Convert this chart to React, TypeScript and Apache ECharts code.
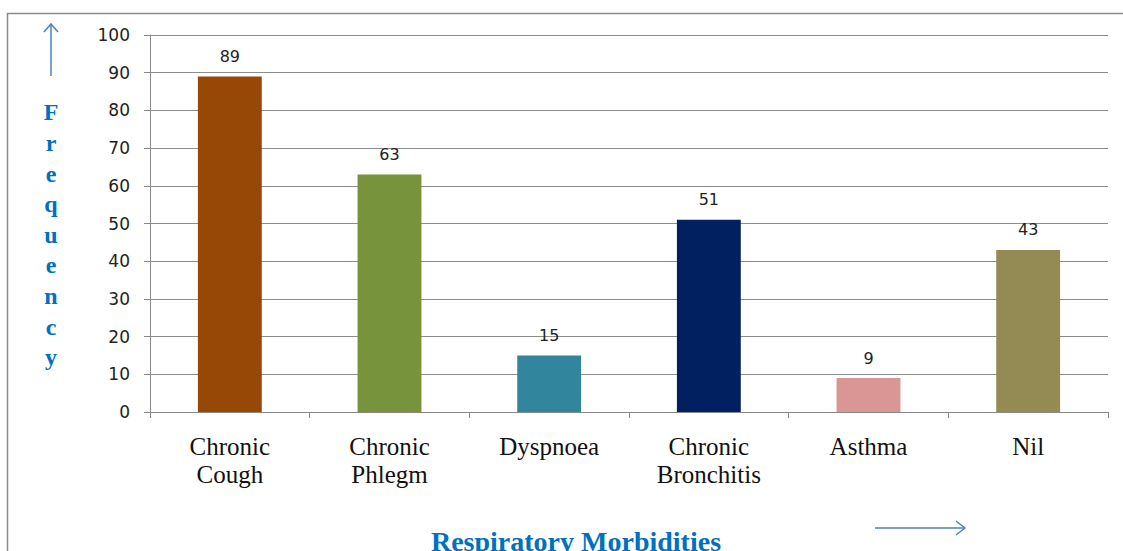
import React, { useEffect, useRef } from "react";
import * as echarts from "echarts";

const categories = ["Chronic\nCough", "Chronic\nPhlegm", "Dyspnoea", "Chronic\nBronchitis", "Asthma", "Nil"];
const values = [89, 63, 15, 51, 9, 43];
const barColors = ["#974706", "#77933C", "#31859C", "#002060", "#D99694", "#948A54"];
const yTicks = { min: 0, max: 100, interval: 10 };
const xTitle = "Respiratory Morbidities";
const yTitle = "Frequency";

export default function App() {
  const ref = useRef<HTMLDivElement>(null);
  useEffect(() => {
    if (!ref.current) return;
    const chart = echarts.init(ref.current, null, { renderer: "svg" });
    const blue = "#0070C0";
    const arrow = "#4F81BD";
    chart.setOption({
      animation: false,
      backgroundColor: "#ffffff",
      grid: { left: 150, right: 15, top: 35, bottom: 139, containLabel: false },
      xAxis: {
        type: "category",
        data: categories,
        boundaryGap: true,
        axisLine: { show: true, lineStyle: { color: "#888888", width: 1 } },
        axisTick: { show: true, length: 6, interval: 0, lineStyle: { color: "#888888" } },
        axisLabel: {
          interval: 0,
          margin: 20,
          color: "#111111",
          fontFamily: "Liberation Serif",
          fontSize: 25,
          lineHeight: 28,
        },
      },
      yAxis: {
        type: "value",
        min: yTicks.min,
        max: yTicks.max,
        interval: yTicks.interval,
        axisLine: { show: true, lineStyle: { color: "#888888", width: 1 } },
        axisTick: { show: true, length: 6, lineStyle: { color: "#888888" } },
        axisLabel: {
          margin: 20,
          color: "#222222",
          fontFamily: "DejaVu Sans",
          fontSize: 17,
        },
        splitLine: { show: true, lineStyle: { color: "#8c8c8c", width: 1 } },
      },
      series: [
        {
          type: "bar",
          data: values.map((v, i) => ({ value: v, itemStyle: { color: barColors[i] } })),
          barWidth: "40%",
          label: {
            show: true,
            position: "top",
            distance: 12,
            color: "#222222",
            fontFamily: "DejaVu Sans",
            fontSize: 16,
          },
        },
      ],
      graphic: [
        {
          type: "rect",
          shape: { x: 7.5, y: 13.5, width: 1140, height: 580 },
          style: { fill: "none", stroke: "#8a8a8a", lineWidth: 1.5 },
          silent: true,
        },
        {
          type: "text",
          x: 51,
          y: 97,
          style: {
            text: yTitle.split("").join("\n"),
            fill: blue,
            fontFamily: "Liberation Serif",
            fontWeight: "bold",
            fontSize: 24,
            lineHeight: 30.6,
            align: "center",
            verticalAlign: "top",
          },
        },
        {
          type: "text",
          x: 576,
          y: 527,
          style: {
            text: xTitle,
            fill: blue,
            fontFamily: "Liberation Serif",
            fontWeight: "bold",
            fontSize: 28,
            align: "center",
            verticalAlign: "top",
          },
        },
        {
          type: "line",
          shape: { x1: 51, y1: 76, x2: 51, y2: 24 },
          style: { stroke: arrow, lineWidth: 1.5 },
        },
        {
          type: "polyline",
          shape: { points: [[44, 32], [51, 24], [58, 32]] },
          style: { stroke: arrow, lineWidth: 1.5, fill: "none" },
        },
        {
          type: "line",
          shape: { x1: 875, y1: 528, x2: 965, y2: 528 },
          style: { stroke: arrow, lineWidth: 1.5 },
        },
        {
          type: "polyline",
          shape: { points: [[956, 521], [965, 528], [956, 535]] },
          style: { stroke: arrow, lineWidth: 1.5, fill: "none" },
        },
      ],
    });
    return () => chart.dispose();
  }, []);
  return (
    <div
      ref={ref}
      style={{ position: "fixed", left: 0, top: 0, width: 1123, height: 551 }}
    />
  );
}
